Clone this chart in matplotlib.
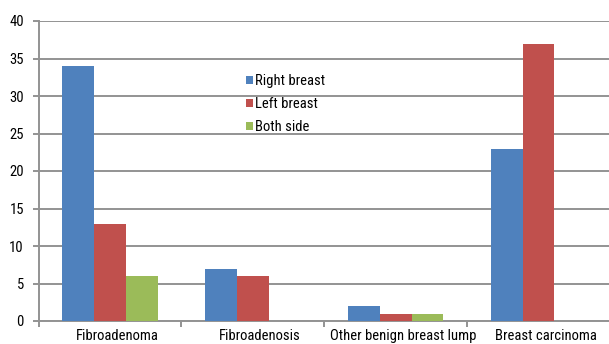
import matplotlib
matplotlib.use("Agg")
import matplotlib.pyplot as plt
import matplotlib.transforms as mtransforms
import numpy as np
from matplotlib import font_manager

categories = ["Fibroadenoma", "Fibroadenosis", "Other benign breast lump", "Breast carcinoma"]
right_breast = [34, 7, 2, 23]
left_breast = [13, 6, 1, 37]
both_side = [6, 0, 1, 0]
series_names = ["Right breast", "Left breast", "Both side"]
colors = ["#4F81BD", "#C0504D", "#9BBB59"]
yticks = [0, 5, 10, 15, 20, 25, 30, 35, 40]

names = {f.name for f in font_manager.fontManager.ttflist}
family = "Liberation Sans"
for cand in ["Liberation Sans Narrow", "Arial Narrow", "Roboto Condensed", "Open Sans Condensed"]:
    if cand in names:
        family = cand
        break
plt.rcParams["font.family"] = [family, "DejaVu Sans"]

fig = plt.figure(figsize=(6.09, 3.44), dpi=100)
ax = fig.add_axes([38.5 / 609, (344 - 321) / 344, (610 - 38.5) / 609, 300 / 344])

x = np.arange(len(categories))
w = 0.222
for i, (vals, name, c) in enumerate(zip([right_breast, left_breast, both_side], series_names, colors)):
    ax.bar(x + (i - 1) * w, vals, width=w, color=c, label=name, zorder=3)

grey = "#939393"
ax.set_xlim(-0.5, len(categories) - 0.5)
ax.set_ylim(0, 40)
ax.set_yticks(yticks)
ax.set_yticklabels([str(t) for t in yticks], fontsize=10.5)
ax.yaxis.grid(True, color=grey, linewidth=1.4, zorder=0)
ax.set_xticks(x)
ax.set_xticklabels(categories, fontsize=10.5)
ax.set_xticks(np.arange(len(categories) + 1) - 0.5, minor=True)
ax.tick_params(axis="x", which="major", length=0, pad=6)
ax.tick_params(axis="x", which="minor", length=4, color=grey, width=1.4)
ax.tick_params(axis="y", length=4.5, color=grey, width=1.4, pad=6)

# category labels sit slightly right of the bar groups
shift = mtransforms.ScaledTranslation(0.07, 0, fig.dpi_scale_trans)
for lbl in ax.get_xticklabels():
    lbl.set_transform(lbl.get_transform() + shift)

for s in ["top", "right"]:
    ax.spines[s].set_visible(False)
for s in ["left", "bottom"]:
    ax.spines[s].set_color(grey)
    ax.spines[s].set_linewidth(1.4)

leg = ax.legend(loc="upper left", bbox_to_anchor=(0.350, 0.848), frameon=False,
                fontsize=10.5, handlelength=0.5, handleheight=0.5, handletextpad=0.15,
                labelspacing=0.62, borderpad=0)

fig.savefig("out.png", dpi=100)
